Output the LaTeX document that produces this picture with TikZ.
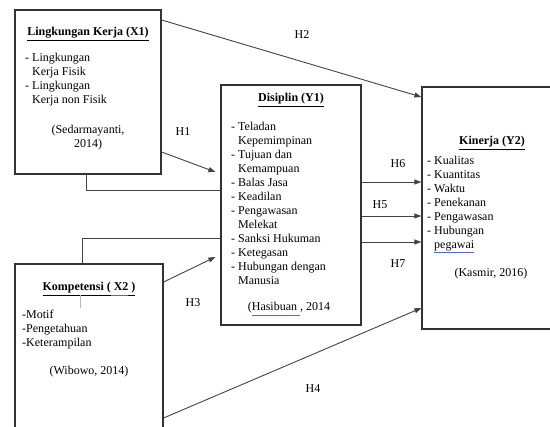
\documentclass[tikz,border=0pt]{standalone}
\usepackage{fontspec}
\setmainfont{Liberation Serif}
\usetikzlibrary{arrows.meta,calc}
\definecolor{boxc}{HTML}{333333}
\definecolor{linec}{HTML}{444444}
\definecolor{ulblue}{HTML}{5566CC}
\newcommand{\myul}[2][black]{{\color{#1}\underline{\textcolor{black}{#2}\vphantom{(}}}}
\begin{document}
\begin{tikzpicture}[x=1pt,y=-1pt,
  box/.style={draw=boxc, line width=1.2pt, rectangle, inner sep=0pt},
  txt/.style={font=\fontsize{12}{14}\selectfont, inner sep=0pt},
  list/.style={txt, align=left, anchor=north west},
  conn/.style={draw=linec, line width=0.9pt},
  arr/.style={conn, -{Triangle[length=7pt,width=5pt]}},
]
\useasboundingbox (0,0) rectangle (550,427);
\fill[white] (0,0) rectangle (550,427);

% boxes
\node[box, minimum width=146pt, minimum height=164pt] (x1) at (88,92) {};
\node[box, minimum width=140pt, minimum height=240pt] (y1) at (291,205) {};
\node[box, minimum width=138pt, minimum height=242pt] (y2) at (491,208) {};
\node[box, minimum width=148pt, minimum height=176pt] (x2) at (89,352) {};

% X1 text
\node[txt, anchor=base] (x1t) at (88,36) {\myul{\textbf{Lingkungan Kerja (X1)}}};
\node[list] (x1l) at (25,53) {- Lingkungan\\\phantom{- }Kerja Fisik\\- Lingkungan\\\phantom{- }Kerja non Fisik};
\node[txt, align=center, anchor=north] (x1r) at (88,125) {(Sedarmayanti,\\2014)};

% Y1 text
\node[txt, anchor=base] (y1t) at (291,102) {\myul{\textbf{Disiplin (Y1)}}};
\node[list] (y1l) at (231,122) {- Teladan\\\phantom{- }Kepemimpinan\\- Tujuan dan\\\phantom{- }Kemampuan\\- Balas Jasa\\- Keadilan\\- Pengawasan\\\phantom{- }Melekat\\- Sanksi Hukuman\\- Ketegasan\\- Hubungan dengan\\\phantom{- }Manusia};
\node[txt, anchor=base] (y1r) at (289,311) {(\myul[ulblue]{Hasibuan }, 2014};

% Y2 text
\node[txt, anchor=base] (y2t) at (492,145) {\myul{\textbf{Kinerja (Y2)}}};
\node[list] (y2l) at (427,156) {- Kualitas\\- Kuantitas\\- Waktu\\- Penekanan\\- Pengawasan\\- Hubungan\\\phantom{- }\myul[ulblue]{pegawai}};
\node[txt, anchor=base] (y2r) at (491,277) {(Kasmir, 2016)};

% X2 text
\node[txt, anchor=base] (x2t) at (89,291) {\myul{\textbf{Kompetensi}}\myul{\textbf{ (}}\myul[ulblue]{\textbf{ X2}}\myul{\textbf{ )}}};
\draw[gray!55, line width=0.8pt] (80,295) -- (80,308);
\node[list] (x2l) at (22,310) {-Motif\\-Pengetahuan\\-Keterampilan};
\node[txt, anchor=base] (x2r) at (89,375) {(Wibowo, 2014)};

% connectors
\draw[arr] (x1.east |- 0,20) -- (y2.west |- 0,97);
\draw[arr] (x1.east |- 0,152) -- ($(y1.west |- 0,172)+(-5,0)$);
\draw[conn] (86,0 |- x1.south) -- (86,190) -- (y1.west |- 0,190);
\draw[conn] (82,0 |- x2.north) -- (82,238) -- (y1.west |- 0,238);
\draw[arr] (x2.east |- 0,282) -- ($(y1.west |- 0,257)+(-5,0)$);
\draw[arr] (x2.east |- 0,418) -- (y2.west |- 0,308);
\draw[arr] (y1.east |- 0,182) -- (y2.west |- 0,182);
\draw[arr] (y1.east |- 0,216) -- (y2.west |- 0,216);
\draw[arr] (y1.east |- 0,242) -- (y2.west |- 0,242);

% labels
\node[txt] (h1) at (183,132) {H1};
\node[txt] (h2) at (302,35) {H2};
\node[txt] (h3) at (193,303) {H3};
\node[txt] (h4) at (313,389) {H4};
\node[txt] (h5) at (380,205) {H5};
\node[txt] (h6) at (398,164) {H6};
\node[txt] (h7) at (398,264) {H7};
\end{tikzpicture}
\end{document}
